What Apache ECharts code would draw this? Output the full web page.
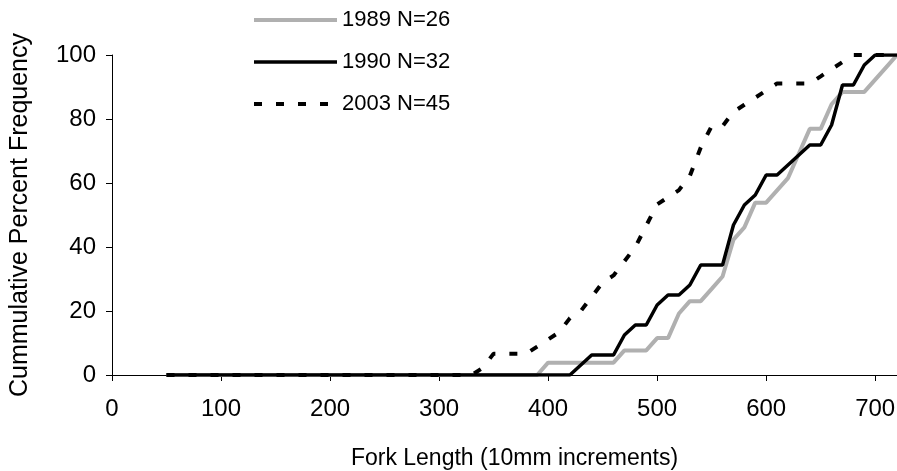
<!DOCTYPE html>
<html>
<head>
<meta charset="utf-8">
<script src="https://cdn.jsdelivr.net/npm/echarts@6/dist/echarts.min.js"></script>
<style>
html,body{margin:0;padding:0;background:#fff;}
#chart{width:897px;height:471px;}
</style>
</head>
<body>
<div id="chart"></div>
<script>
// Fork length bins (10mm increments)
const forkLength = [50,60,70,80,90,100,110,120,130,140,150,160,170,180,190,200,210,220,230,240,250,260,270,280,290,300,310,320,330,340,350,360,370,380,390,400,410,420,430,440,450,460,470,480,490,500,510,520,530,540,550,560,570,580,590,600,610,620,630,640,650,660,670,680,690,700,710,720];

const cum1989 = [0,0,0,0,0,0,0,0,0,0,0,0,0,0,0,0,0,0,0,0,0,0,0,0,0,0,0,0,0,0,0,0,0,0,0,
  3.85,3.85,3.85,3.85,3.85,3.85,3.85,7.69,7.69,7.69,11.54,11.54,19.23,23.08,23.08,26.92,30.77,42.31,46.15,53.85,53.85,57.69,61.54,69.23,76.92,76.92,84.62,88.46,88.46,88.46,92.31,96.15,100];

const cum1990 = [0,0,0,0,0,0,0,0,0,0,0,0,0,0,0,0,0,0,0,0,0,0,0,0,0,0,0,0,0,0,0,0,0,0,0,0,0,0,
  3.13,6.25,6.25,6.25,12.5,15.63,15.63,21.88,25,25,28.13,34.38,34.38,34.38,46.88,53.13,56.25,62.5,62.5,65.63,68.75,71.88,71.88,78.13,90.63,90.63,96.88,100,100,100];

const cum2003 = [0,0,0,0,0,0,0,0,0,0,0,0,0,0,0,0,0,0,0,0,0,0,0,0,0,0,0,0,0,
  2.22,6.67,6.67,6.67,6.67,8.89,11.11,13.33,17.78,20,24.44,28.89,31.11,35.56,40,46.67,53.33,55.56,57.78,62.22,71.11,77.78,77.78,82.22,84.44,86.67,88.89,91.11,91.11,91.11,91.11,93.33,95.56,97.78,100,100,100,100,100];

const seriesNames = ['1989 N=26','1990 N=32','2003 N=45'];
const xTickValues = [0,100,200,300,400,500,600,700];
const yTickValues = [0,20,40,60,80,100];

function pairs(ys){ return forkLength.map((x,i)=>[x, ys[i]]); }

const FONT = 'Liberation Sans, Arial, sans-serif';
const chart = echarts.init(document.getElementById('chart'), null, {renderer:'canvas'});
chart.setOption({
  animation:false,
  backgroundColor:'#ffffff',
  grid:{left:112, right:0, top:55, bottom:96, containLabel:false, outerBoundsMode:'none'},
  legend:{
    orient:'vertical', left:247, top:4,
    itemWidth:83, itemHeight:20, itemGap:20,
    itemStyle:{opacity:0},
    textStyle:{fontFamily:FONT, fontSize:22, color:'#000'},
    data:[
      {name:seriesNames[0], lineStyle:{width:4, color:'#b0b0b0'}},
      {name:seriesNames[1], lineStyle:{width:3.5, color:'#000'}},
      {name:seriesNames[2], lineStyle:{width:4, color:'#000', type:[8,14]}}
    ]
  },
  xAxis:{
    type:'value', min:0, max:720, interval:100,
    name:'Fork Length (10mm increments)', nameLocation:'middle', nameGap:72,
    nameTextStyle:{fontFamily:FONT, fontSize:23, color:'#000', padding:[0,0,0,20]},
    axisLine:{onZero:false, lineStyle:{color:'#000', width:1}},
    axisTick:{show:true, length:6, lineStyle:{color:'#000'}, customValues:xTickValues},
    axisLabel:{fontFamily:FONT, fontSize:24, color:'#000', margin:22, customValues:xTickValues},
    splitLine:{show:false}
  },
  yAxis:{
    type:'value', min:0, max:100, interval:20,
    name:'Cummulative Percent Frequency', nameLocation:'middle', nameGap:79,
    nameTextStyle:{fontFamily:FONT, fontSize:25, color:'#000'},
    axisLine:{show:true, lineStyle:{color:'#000', width:1}},
    axisTick:{show:true, length:6, lineStyle:{color:'#000'}},
    axisLabel:{fontFamily:FONT, fontSize:24, color:'#000', margin:16},
    splitLine:{show:false}
  },
  series:[
    {name:seriesNames[0], type:'line', data:pairs(cum1989), showSymbol:false, symbol:'none',
     lineStyle:{color:'#b0b0b0', width:4}, itemStyle:{color:'#b0b0b0'}},
    {name:seriesNames[1], type:'line', data:pairs(cum1990), showSymbol:false, symbol:'none',
     lineStyle:{color:'#000', width:3.5}, itemStyle:{color:'#000'}},
    {name:seriesNames[2], type:'line', data:pairs(cum2003), showSymbol:false, symbol:'none',
     lineStyle:{color:'#000', width:4, type:[8,14]}, itemStyle:{color:'#000'}}
  ]
});
</script>
</body>
</html>
